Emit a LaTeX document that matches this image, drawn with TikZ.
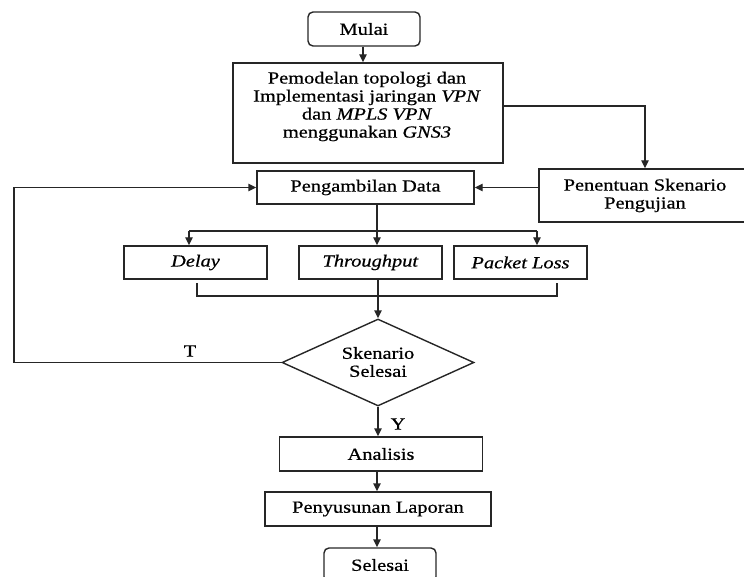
\documentclass[tikz,border=0pt]{standalone}
\usepackage{fontspec}
\setmainfont{Liberation Serif}[FakeStretch=1.2,FakeBold=0.6]
\usetikzlibrary{arrows.meta,shapes.geometric,calc}
\begin{document}
\begin{tikzpicture}[x=1pt,y=-1pt,
  every node/.style={font=\fontsize{17}{18}\selectfont, text=black},
  box/.style={draw=black!85, line width=1.4pt, rectangle, inner sep=0pt, align=center},
  rbox/.style={box, rounded corners=5pt},
  dbox/.style={draw=black!85, line width=1.4pt, diamond, inner sep=0pt},
  txt/.style={inner sep=0pt, align=center},
  conn/.style={draw=black!85, line width=1.4pt},
  arr/.style={conn, -{Triangle[length=8pt,width=7.5pt]}}
]
\useasboundingbox (0,0) rectangle (744,577);
\clip (0,0) rectangle (744,577);

% nodes
\node[rbox, minimum width=112pt, minimum height=34pt] (mulai) at (364,29) {Mulai};
\node[box, minimum width=270pt, minimum height=100pt] (model) at (368,113) {};
\node[txt] (modeltxt) at (367,106.5) {Pemodelan topologi dan\\Implementasi jaringan \textit{VPN}\\dan \textit{MPLS VPN}\\menggunakan \textit{GNS3}};
\node[box, minimum width=217pt, minimum height=33pt] (data) at (365.5,187.5) {Pengambilan Data};
\node[box, minimum width=212pt, minimum height=53pt] (sken) at (645,195.5) {Penentuan Skenario\\Pengujian};
\node[box, minimum width=143pt, minimum height=33pt] (delay) at (195.5,262.5) {\textit{Delay}};
\node[box, minimum width=143pt, minimum height=33pt] (thr) at (370.5,262.5) {\textit{Throughput}};
\node[box, minimum width=133pt, minimum height=33pt] (pl) at (520.5,262.5) {\textit{Packet Loss}};
\node[dbox, minimum width=192pt, minimum height=87pt] (dia) at (378,362.5) {};
\node[txt] (diatxt) at (378,362) {Skenario\\Selesai};
\node[box, minimum width=203pt, minimum height=34pt] (ana) at (381,454) {Analisis};
\node[box, minimum width=226pt, minimum height=34pt] (pen) at (378,509) {Penyusunan Laporan};
\node[rbox, minimum width=112pt, minimum height=34pt] (sel) at (380,565) {Selesai};

% labels
\node[txt] (tlab) at (190,351) {T};
\node[txt] (ylab) at (398,424) {Y};

% helper coordinates
\coordinate (brc) at (377,231);
\coordinate (brl) at (189,231);
\coordinate (brr) at (537,231);
\coordinate (bk1) at (197,283);
\coordinate (bk2) at (197,296);
\coordinate (bk3) at (557,296);
\coordinate (bk4) at (557,283);
\coordinate (lp) at (14,362.5);

% connectors
\draw[arr] (mulai.south -| 363,0) -- (model.north -| 363,0);
\draw[arr] ([yshift=7pt]model.east) -| (sken.north);
\draw[arr] (sken.west |- data.east) -- (data.east);
\draw[conn] (brc |- data.south) -- (brc);
\draw[conn] (brl) -- (brr);
\draw[arr] (brl) -- (brl |- delay.north);
\draw[arr] (brc) -- (brc |- thr.north);
\draw[arr] (brr) -- (brr |- pl.north);
\draw[conn] (bk1) -- (bk2) -- (bk3) -- (bk4);
\draw[arr] (dia.north |- thr.south) -- (dia.north);
\draw[arr] (dia.west) -- (lp) |- (data.west);
\draw[arr] (dia.south) -- (dia.south |- ana.north);
\draw[arr] (ana.south -| 377,0) -- (pen.north -| 377,0);
\draw[arr] (pen.south -| 377,0) -- (sel.north -| 377,0);
\end{tikzpicture}
\end{document}
